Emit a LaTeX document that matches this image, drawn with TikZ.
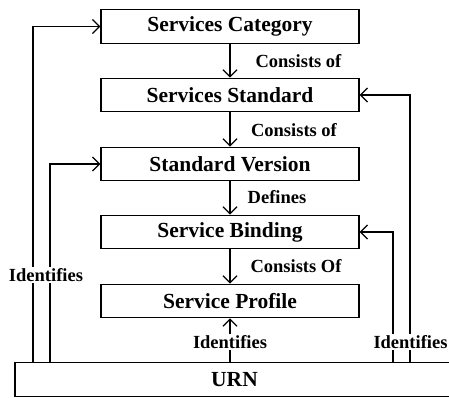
\documentclass[tikz,border=0pt]{standalone}
\usepackage{fontspec}
\setmainfont{Liberation Serif}
\usetikzlibrary{arrows.meta}
\tikzset{
  box/.style={draw, line width=1.2pt, minimum width=258pt, minimum height=33.5pt,
    inner sep=0pt, font=\fontsize{21.5}{24}\selectfont\bfseries},
  urnbox/.style={draw, line width=1.2pt, minimum width=439pt, minimum height=34pt,
    inner sep=0pt, font=\fontsize{21.5}{24}\selectfont\bfseries},
  lbl/.style={font=\fontsize{18.5}{20}\selectfont\bfseries, inner sep=0pt},
  idlbl/.style={lbl, fill=white, inner ysep=1pt, inner xsep=0pt},
  arr/.style={line width=1.3pt, -{Straight Barb[length=7pt,width=14pt,line width=1.3pt]}},
}
\begin{document}
\begin{tikzpicture}[x=1pt,y=-1pt]
\useasboundingbox (0,0) rectangle (449,397);
\clip (0,0) rectangle (449,397);

% hierarchy of service entities
\node[box] (b1) at (230,26.5) {Services Category};
\node[box] (b2) at (230,95)   {Services Standard};
\node[box] (b3) at (230,164)  {Standard Version};
\node[box] (b4) at (230,232)  {Service Binding};
\node[box] (b5) at (230,301)  {Service Profile};
\node[urnbox] (urn) at (234.5,379.5) {URN};

% x positions of the side feedback lines
\coordinate (xl1) at (33,0);
\coordinate (xl2) at (50,0);
\coordinate (xr1) at (410,0);
\coordinate (xr2) at (393,0);

% downward chain
\draw[arr] (b1.south) -- (b2.north);
\draw[arr] (b2.south) -- (b3.north);
\draw[arr] (b3.south) -- (b4.north);
\draw[arr] (b4.south) -- (b5.north);

% URN identifies the entities
\draw[arr] (urn.north -| xl1) |- (b1.west);
\draw[arr] (urn.north -| xl2) |- (b3.west);
\draw[arr] (urn.north -| xr1) |- (b2.east);
\draw[arr] (urn.north -| xr2) |- (b4.east);
\draw[arr] (urn.north -| b5.south) -- (b5.south);

% relation labels
\node[lbl] (l1) at (298.5,61)  {Consists of};
\node[lbl] (l2) at (294,130)   {Consists of};
\node[lbl] (l3) at (277,197)   {Defines};
\node[lbl] (l4) at (296,266)   {Consists Of};
\node[idlbl] (i1) at (46,275)    {Identifies};
\node[idlbl] (i2) at (230,342)   {Identifies};
\node[idlbl] (i3) at (410.5,342) {Identifies};
\end{tikzpicture}
\end{document}
